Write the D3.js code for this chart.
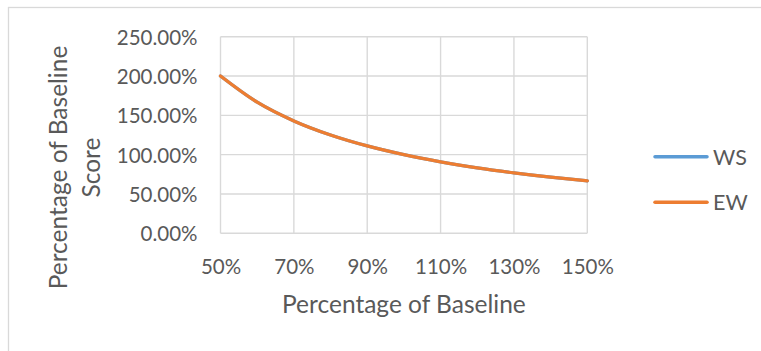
<!DOCTYPE html>
<html>
<head>
<meta charset="utf-8">
<script src="https://cdn.jsdelivr.net/npm/d3@7"></script>
<style>
  html, body { margin: 0; padding: 0; background: #fff; }
  svg { display: block; }
  text { font-family: Lato, "Noto Sans", sans-serif; fill: #595959; }
</style>
</head>
<body>
<svg id="chart" width="761" height="351"></svg>
<script>
// Share of baseline (x) against resulting share of baseline score (y)
const baselineShare = [0.5, 0.6, 0.7, 0.8, 0.9, 1.0, 1.1, 1.2, 1.3, 1.4, 1.5];
const wsScore = [2.0, 1.667, 1.429, 1.25, 1.111, 1.0, 0.909, 0.833, 0.769, 0.714, 0.667];
const ewScore = [2.0, 1.667, 1.429, 1.25, 1.111, 1.0, 0.909, 0.833, 0.769, 0.714, 0.667];
const xTicks = [0.5, 0.7, 0.9, 1.1, 1.3, 1.5];
const yTicks = [0, 0.5, 1.0, 1.5, 2.0, 2.5];
const seriesNames = ["WS", "EW"];
const seriesColors = ["#5B9BD5", "#ED7D31"];

const svg = d3.select("#chart");

// chart frame
svg.append("rect")
  .attr("x", 8.5).attr("y", 7.5)
  .attr("width", 800).attr("height", 400)
  .attr("fill", "#fff").attr("stroke", "#d9d9d9").attr("stroke-width", 1.3);

const plot = { left: 220.5, right: 587.3, top: 36.7, bottom: 233.3 };

const x = d3.scaleLinear().domain([0.5, 1.5]).range([plot.left, plot.right]);
const y = d3.scaleLinear().domain([0, 2.5]).range([plot.bottom, plot.top]);

const grid = svg.append("g");
grid.selectAll("line.h").data(yTicks).join("line")
  .attr("x1", plot.left).attr("x2", plot.right)
  .attr("y1", d => y(d)).attr("y2", d => y(d))
  .attr("stroke", "#d9d9d9").attr("stroke-width", 1.4);
grid.selectAll("line.v").data(xTicks).join("line")
  .attr("x1", d => x(d)).attr("x2", d => x(d))
  .attr("y1", plot.top).attr("y2", plot.bottom)
  .attr("stroke", "#d9d9d9").attr("stroke-width", 1.4);

// y axis labels
const yAxis = svg.append("g")
  .attr("transform", `translate(${plot.left},0)`)
  .call(d3.axisLeft(y).tickValues(yTicks).tickFormat(d3.format(".2%")).tickSize(0).tickPadding(23));
yAxis.select(".domain").remove();
yAxis.selectAll("text")
  .style("font-family", "Lato, 'Noto Sans', sans-serif")
  .style("font-size", "20.5px").attr("fill", "#595959").attr("dy", "0.36em");

// x axis labels
const xAxis = svg.append("g")
  .attr("transform", `translate(0,${plot.bottom})`)
  .call(d3.axisBottom(x).tickValues(xTicks).tickFormat(d3.format(".0%")).tickSize(0).tickPadding(26));
xAxis.select(".domain").remove();
xAxis.selectAll("text")
  .style("font-family", "Lato, 'Noto Sans', sans-serif")
  .style("font-size", "20.5px").attr("fill", "#595959").attr("dy", "0.71em");

// axis titles
svg.append("text")
  .attr("x", (plot.left + plot.right) / 2).attr("y", 313)
  .attr("text-anchor", "middle")
  .style("font-size", "24.5px")
  .text("Percentage of Baseline");

const yTitle = svg.append("text")
  .attr("transform", "translate(0,167.5) rotate(-90)")
  .attr("text-anchor", "middle")
  .style("font-size", "24.5px");
yTitle.append("tspan").attr("x", 0).attr("y", 66.5).text("Percentage of Baseline");
yTitle.append("tspan").attr("x", 0).attr("y", 100).text("Score");

// series lines
const line = d3.line()
  .x((d, i) => x(baselineShare[i]))
  .y(d => y(d))
  .curve(d3.curveMonotoneX);

[wsScore, ewScore].forEach((vals, i) => {
  svg.append("path")
    .attr("d", line(vals))
    .attr("fill", "none")
    .attr("stroke", seriesColors[i])
    .attr("stroke-width", 3.3)
    .attr("stroke-linecap", "round");
});

// legend
const legendY = [156.7, 202.3];
seriesNames.forEach((name, i) => {
  svg.append("line")
    .attr("x1", 655).attr("x2", 707)
    .attr("y1", legendY[i]).attr("y2", legendY[i])
    .attr("stroke", seriesColors[i]).attr("stroke-width", 3.5)
    .attr("stroke-linecap", "round");
  svg.append("text")
    .attr("x", 713).attr("y", legendY[i] + 8)
    .style("font-size", "21.5px")
    .text(name);
});
</script>
</body>
</html>
